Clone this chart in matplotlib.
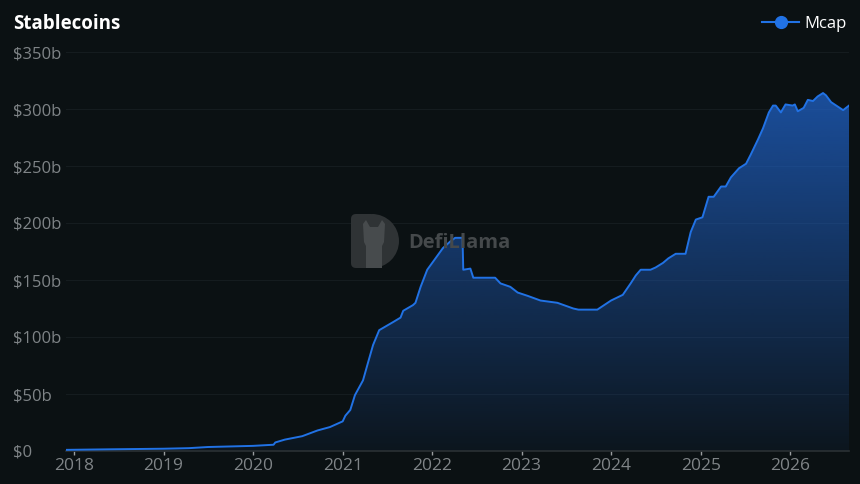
import numpy as np
import pandas as pd
import matplotlib.pyplot as plt
import matplotlib.dates as mdates
from matplotlib.lines import Line2D
from matplotlib.patches import Wedge, FancyBboxPatch, Polygon

# Stablecoin market cap (billions USD)
dates = ["2017-11-29", "2018-06-01", "2019-01-01", "2019-04-15", "2019-07-01",
         "2019-10-01", "2020-01-01", "2020-03-25", "2020-04-01", "2020-05-10",
         "2020-07-20", "2020-09-20", "2020-11-10", "2021-01-01", "2021-01-12",
         "2021-02-01", "2021-02-20", "2021-03-25", "2021-04-15", "2021-05-05",
         "2021-05-30", "2021-06-15", "2021-07-25", "2021-08-25", "2021-09-05",
         "2021-10-15", "2021-10-25", "2021-11-15", "2021-12-12", "2022-01-08",
         "2022-02-14", "2022-03-17", "2022-04-05", "2022-05-05", "2022-05-08",
         "2022-06-06", "2022-06-18", "2022-09-15", "2022-10-07", "2022-11-16",
         "2022-12-16", "2023-01-27", "2023-03-19", "2023-05-27", "2023-07-31",
         "2023-08-21", "2023-11-06", "2024-01-01", "2024-02-18", "2024-03-21",
         "2024-04-11", "2024-05-01", "2024-06-10", "2024-07-01", "2024-07-31",
         "2024-08-22", "2024-09-21", "2024-10-31", "2024-11-21", "2024-12-12",
         "2025-01-08", "2025-02-02", "2025-02-23", "2025-03-25", "2025-04-13",
         "2025-05-04", "2025-06-06", "2025-07-05", "2025-07-24", "2025-08-22",
         "2025-09-12", "2025-10-06", "2025-10-23", "2025-11-03", "2025-11-24",
         "2025-12-13", "2026-01-11", "2026-01-20", "2026-02-01", "2026-02-25",
         "2026-03-14", "2026-04-04", "2026-04-23", "2026-05-15", "2026-05-27",
         "2026-06-17", "2026-07-15", "2026-08-05", "2026-08-17", "2026-08-29"]
mcap = [1.0, 1.5, 2.0, 2.5, 3.5,
        4.0, 4.5, 5.5, 7.5, 10,
        13, 18, 21, 26, 31,
        36, 49, 62, 78, 93,
        106, 108, 113, 117, 123,
        128, 130, 144, 159, 167,
        178, 184, 187, 187, 159,
        160, 152, 152, 147, 144,
        139, 136, 132, 130, 125,
        124, 124, 132, 137, 147,
        154, 159, 159, 161, 165,
        169, 173, 173, 192, 203,
        205, 223, 223, 232, 232,
        240, 248, 252, 260, 273,
        283, 297, 303, 303, 297,
        304, 303, 304, 298, 301,
        308, 307, 311, 314, 312,
        306, 302, 299, 301, 303]

years = list(range(2018, 2027))
yticks = [0, 50, 100, 150, 200, 250, 300, 350]
ylabels = ["$0", "$50b", "$100b", "$150b", "$200b", "$250b", "$300b", "$350b"]

bg = '#0b1113'
line_c = '#2172e5'
txt_c = '#7f8487'

x = mdates.date2num(pd.to_datetime(dates))
y = np.array(mcap)

fig = plt.figure(figsize=(8.6, 4.84), dpi=100, facecolor=bg)
ax = fig.add_axes([66/860, 1-451/484, (849-66)/860, (451-52)/484])
ax.set_facecolor(bg)

# gradient fill under the line
poly = ax.fill_between(x, y, 0, color='none', lw=0)
rgba = np.zeros((256, 1, 4))
rgba[..., 0] = 0x21/255
rgba[..., 1] = 0x66/255
rgba[..., 2] = 0xd0/255
rgba[..., 3] = np.linspace(0.72, 0.06, 256).reshape(-1, 1)
im = ax.imshow(rgba, extent=[x[0], x[-1], 0, max(mcap)], aspect='auto',
               origin='upper', zorder=1)
im.set_clip_path(poly.get_paths()[0], transform=ax.transData)

ax.plot(x, y, color=line_c, lw=1.4, zorder=3)

ax.set_xlim(x[0], x[-1])
ax.set_ylim(0, 350)

ax.set_xticks(mdates.date2num(pd.to_datetime([f"{yr}-01-01" for yr in years])))
ax.set_xticklabels([str(yr) for yr in years])
ax.set_yticks(yticks)
ax.set_yticklabels(ylabels, ha='left')

ax.tick_params(axis='y', length=0, pad=38, colors=txt_c, labelsize=12)
ax.tick_params(axis='x', length=3, width=1, color='#9a9ea0', pad=2,
               colors=txt_c, labelsize=12.5)
for lab in ax.get_xticklabels() + ax.get_yticklabels():
    lab.set_family('Open Sans')

ax.grid(axis='y', color='#151c1f', lw=0.8)
ax.set_axisbelow(True)
for s in ['top', 'right', 'left']:
    ax.spines[s].set_visible(False)
ax.spines['bottom'].set_color('#2b3134')
ax.spines['bottom'].set_linewidth(1.2)

# title
fig.text(13/860, 1-29/484, "Stablecoins", color='white', fontsize=13.5,
         fontweight='bold', family='Open Sans', va='baseline', ha='left')

# legend
h = Line2D([], [], color=line_c, lw=1.5, marker='o', markersize=8.5)
leg = fig.legend(handles=[h], labels=["Mcap"], loc='upper right',
                 bbox_to_anchor=(858/860, 1-4/484), frameon=False,
                 handlelength=2.2, handletextpad=0.3, borderpad=0.2,
                 prop={'family': 'Open Sans', 'size': 12})
for t in leg.get_texts():
    t.set_color('white')

# watermark (logo + name)
tr = fig.dpi_scale_trans
logo_c = '#2f3335'
fig.patches.append(FancyBboxPatch((3.51, (484-268)/100), 0.25, 0.54,
                                  boxstyle='round,pad=0,rounding_size=0.05',
                                  transform=tr, fc=logo_c, ec='none', zorder=0.5))
fig.patches.append(Wedge((3.72, (484-241)/100), 0.27, -90, 90,
                         transform=tr, fc=logo_c, ec='none', zorder=0.5))
llama = [(363, 224), (366, 220), (370, 227), (378, 227), (382, 220), (385, 224),
         (384, 242), (382, 246), (382, 268), (366, 268), (366, 246), (364, 242)]
fig.patches.append(Polygon([(px/100, (484-py)/100) for px, py in llama],
                           closed=True, transform=tr, fc='#474b4d', ec='none',
                           zorder=0.55))
fig.text(408/860, 1-243/484, "DefiLlama", color='#45494b', fontsize=14.5,
         fontweight='bold', family='Open Sans', va='center', ha='left', zorder=0.6)

fig.savefig("out.png", dpi=100, facecolor=bg)
